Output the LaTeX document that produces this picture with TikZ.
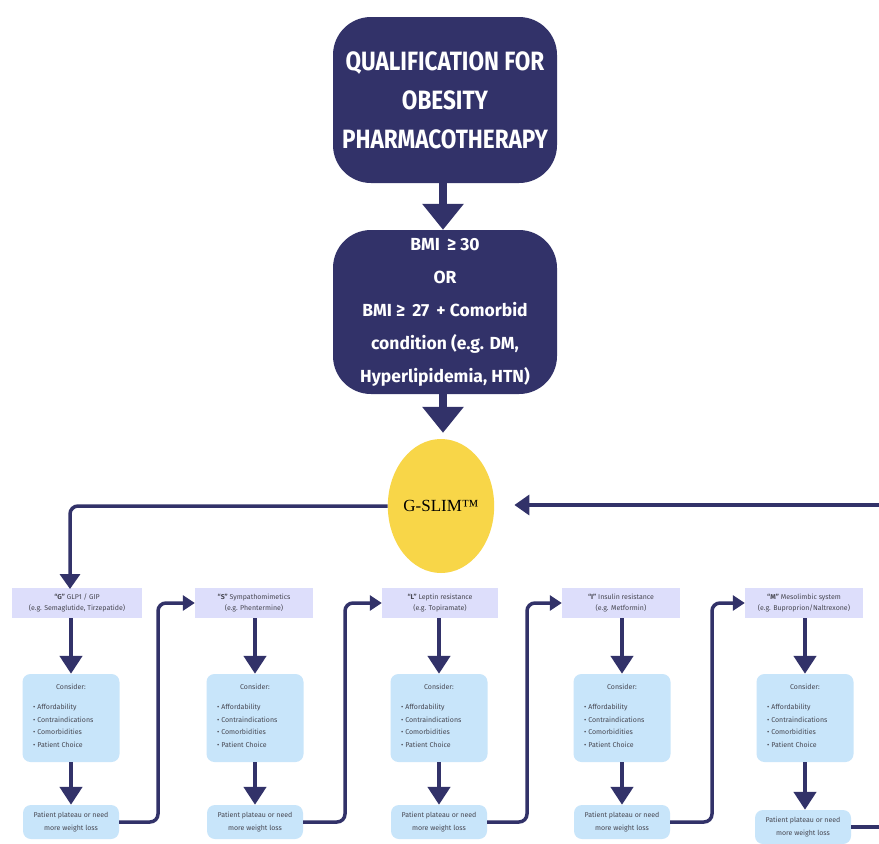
\documentclass[tikz,border=0pt]{standalone}
\usepackage{fontspec}
\setmainfont{Fira Sans}
\newfontfamily\condfont[FakeStretch=0.85]{Fira Sans}
\newfontfamily\gslimfont{Liberation Serif}
\usetikzlibrary{arrows.meta,shapes.geometric}
\definecolor{dnavy}{RGB}{50,50,105}
\definecolor{gold}{RGB}{248,214,72}
\definecolor{lav}{RGB}{221,222,251}
\definecolor{lblue}{RGB}{200,229,250}
\definecolor{txtgray}{RGB}{70,70,80}
\tikzset{
  bigbox/.style={fill=dnavy, rounded corners=38pt, text=white, align=center, inner sep=0pt,
    minimum width=224pt},
  topbox/.style={fill=lav, minimum height=30pt, inner sep=0pt, align=center, text=txtgray,
    font=\fontsize{7}{11}\selectfont},
  considerbox/.style={fill=lblue, rounded corners=8pt, minimum width=97pt, minimum height=88pt, inner sep=0pt},
  plateaubox/.style={fill=lblue, rounded corners=8pt, minimum width=96pt, minimum height=34pt, inner sep=0pt,
    align=center, text=txtgray, font=\fontsize{7}{13}\selectfont},
  smalltext/.style={text=txtgray, inner sep=0pt, font=\fontsize{7}{12.5}\selectfont, align=left},
  bigarrow/.style={draw=dnavy, line width=8pt, -{Triangle[width=40pt,length=26pt]}},
  colarrow/.style={draw=dnavy, line width=4.5pt, -{Triangle[width=22pt,length=18pt]}},
  link/.style={draw=dnavy, line width=3.5pt, rounded corners=8pt, -{Triangle[width=15pt,length=12pt]}},
  mainlink/.style={draw=dnavy, line width=3.5pt, rounded corners=8pt, -{Triangle[width=20pt,length=15pt]}},
}
\begin{document}
\begin{tikzpicture}[x=1pt,y=-1pt]
\useasboundingbox (0,0) rectangle (879,844);
\fill[white] (0,0) rectangle (879,844);

% main boxes
\node[bigbox, minimum height=166pt, font=\condfont\fontsize{26.5}{39}\selectfont\bfseries] (q) at (445,100)
  {QUALIFICATION FOR\\OBESITY\\PHARMACOTHERAPY};
\node[bigbox, minimum height=164pt, font=\fontsize{17.5}{33}\selectfont\bfseries] (b) at (445,312)
  {BMI\, ≥ 30\\OR\\BMI ≥\, 27\, + Comorbid\\condition (e.g. DM,\\Hyperlipidemia, HTN)};
\node[ellipse, fill=gold, minimum width=96pt, minimum height=134pt, inner sep=0pt,
  font=\gslimfont\fontsize{17}{20}\selectfont] (g) at (441,506) {G-SLIM™};

\draw[bigarrow] (q.south -| 443,0) -- (b.north -| 443,0);
\draw[bigarrow, shorten >=6pt] (b.south -| 443,0) -- (g.north -| 443,0);

% column top boxes
\node[topbox, minimum width=130pt] (t1) at (77,603) {\textbf{“G”} GLP1 / GIP\\(e.g. Semaglutide, Tirzepatide)};
\node[topbox, minimum width=118pt] (t2) at (254,603) {\textbf{“S”} Sympathomimetics\\(e.g. Phentermine)};
\node[topbox, minimum width=116pt] (t3) at (440,603) {\textbf{“L”} Leptin resistance\\(e.g. Topiramate)};
\node[topbox, minimum width=118pt] (t4) at (621,603) {\textbf{“I”} Insulin resistance\\(e.g. Metformin)};
\node[topbox, minimum width=118pt] (t5) at (804,603) {\textbf{“M”} Mesolimbic system\\(e.g. Buproprion/Naltrexone)};

% consider boxes
\foreach \i/\x in {1/71,2/255,3/439,4/622,5/805}{
  \node[considerbox] (c\i) at (\x,718) {};
  \node[smalltext, anchor=center] (ch\i) at (\x,687) {Consider:};
  \node[smalltext, anchor=north west] (cl\i) at (\x-38,704) {• Affordability\\• Contraindications\\• Comorbidities\\• Patient Choice};
}

% plateau boxes
\node[plateaubox] (p1) at (71,822) {Patient plateau or need\\more weight loss};
\node[plateaubox] (p2) at (255,822) {Patient plateau or need\\more weight loss};
\node[plateaubox] (p3) at (439,822) {Patient plateau or need\\more weight loss};
\node[plateaubox] (p4) at (622,822) {Patient plateau or need\\more weight loss};
\node[plateaubox] (p5) at (803,827) {Patient plateau or need\\more weight loss};

% column arrows
\foreach \i in {1,...,5}{
  \draw[colarrow] (t\i.south -| c\i) -- (c\i.north);
  \draw[colarrow] (c\i.south) -- (p\i.north -| c\i);
}

% links between columns
\draw[link] (p1.east) -| (158,603) -- (t2.west);
\draw[link] (p2.east) -| (345,603) -- (t3.west);
\draw[link] (p3.east) -| (527,603) -- (t4.west);
\draw[link] (p4.east) -| (712,603) -- (t5.west);
\coordinate (pe) at (879,827);
\draw[draw=dnavy, line width=3.5pt] (p5.east) -- (pe);

% G-SLIM links
\coordinate (lt) at (70,589);
\draw[mainlink] (g.west) -| (lt);
\coordinate (re) at (879,505);
\draw[mainlink, shorten >=20pt] (re) -- (g.east |- re);
\end{tikzpicture}
\end{document}
